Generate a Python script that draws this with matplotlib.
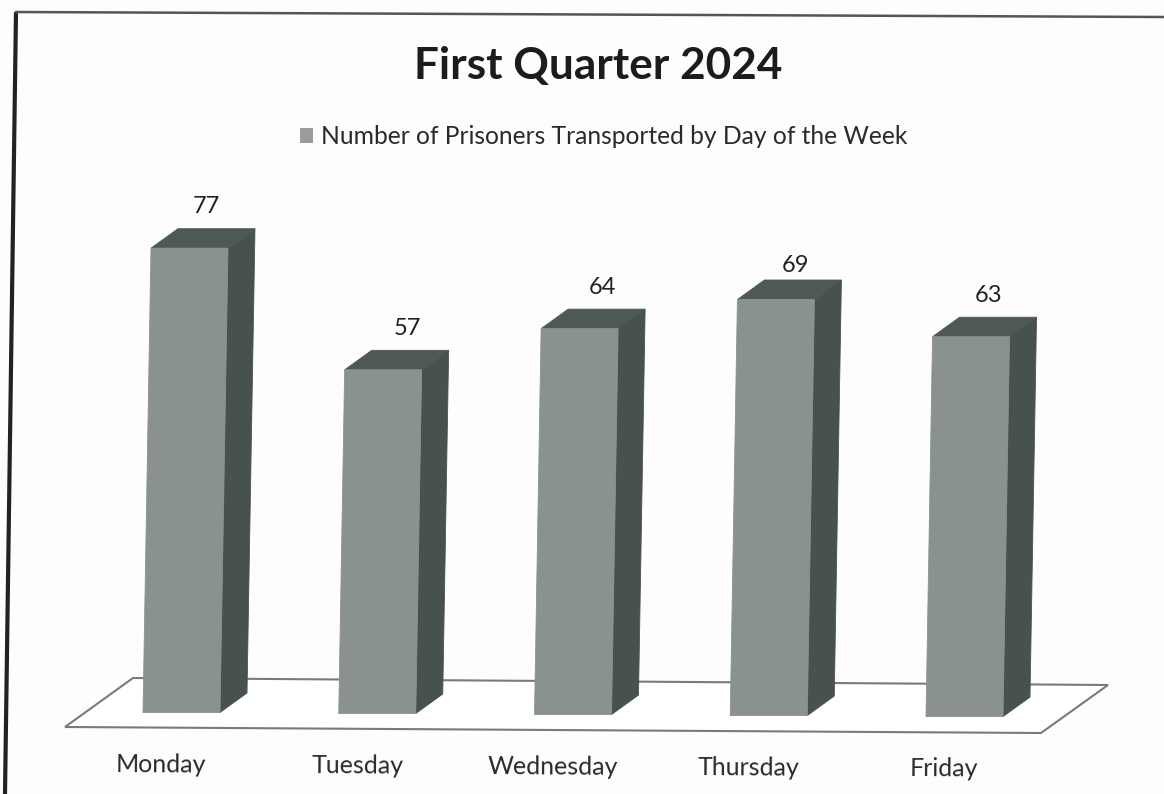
import matplotlib
matplotlib.use("Agg")
import matplotlib.pyplot as plt
from matplotlib.patches import Patch

plt.rcParams['font.family'] = ['Lato', 'DejaVu Sans']

days = ["Monday", "Tuesday", "Wednesday", "Thursday", "Friday"]
prisoners = [77, 57, 64, 69, 63]
series_name = "Number of Prisoners Transported by Day of the Week"
title = "First Quarter 2024"

W, H = 1164, 794
# scale of the picture: pixels per category and per prisoner
PX_X = 195.75
PX_Y = 6.03
X0_PX = 181.5
Y0_PX = 712.5

fig = plt.figure(figsize=(W / 100, H / 100), dpi=100, facecolor='#fdfdfd')
ax = fig.add_axes([0, 0, 1, 1])
ax.set_xlim(-X0_PX / PX_X, (W - X0_PX) / PX_X)
ax.set_ylim(-(H - Y0_PX) / PX_Y, Y0_PX / PX_Y)
ax.axis('off')


def from_px(x, y):
    # picture pixels to data units
    return (x - X0_PX) / PX_X, (Y0_PX - y) / PX_Y


# the scan is slightly crooked, bars lean right and the floor slopes down
lean = 0.0172 * PX_Y / PX_X
drift = 0.17
half = 38.5 / PX_X
dx, dy = 27 / PX_X, 19.5 / PX_Y

# value labels are not placed evenly in the original (pixels)
label_dx = [17, 24, 23, 20, 18]
label_dy = [42, 41, 41, 34, 41]

# floor
floor = [from_px(65, 727), from_px(133, 678), from_px(1108, 685), from_px(1041, 733)]
ax.fill(*zip(*floor), facecolor='white', edgecolor='#777b79', linewidth=1.5, zorder=1)

for i, (day, v) in enumerate(zip(days, prisoners)):
    b = -drift * i
    t = v + b
    x_top = i + lean * v
    left, right = i - half, i + half
    tl, tr = x_top - half, x_top + half
    # side
    ax.fill([right, right + dx, tr + dx, tr], [b, b + dy, t + dy, t],
            facecolor='#47524f', edgecolor='#47524f', linewidth=0.6, zorder=2)
    # top
    ax.fill([tl, tl + dx, tr + dx, tr], [t, t + dy, t + dy, t],
            facecolor='#4e5956', edgecolor='#4e5956', linewidth=0.6, zorder=2)
    # front
    ax.fill([left, right, tr, tl], [b, b, t, t],
            facecolor='#8a928f', edgecolor='#8a928f', linewidth=0.6, zorder=3)
    ax.text(x_top + label_dx[i] / PX_X, t + label_dy[i] / PX_Y, str(v), ha='center', va='center',
            fontsize=17, color='#222222')
    ax.text(i - 20 / PX_X, -8.6 + b * 1.1, day, ha='center', va='center',
            fontsize=18, color='#2a2a2a', rotation=-0.4)

# title and legend
tx, ty = from_px(598, 66)
ax.text(tx, ty, title, ha='center', va='center', fontsize=31.8, fontweight='bold', color='#1c1c1c')
handle = Patch(facecolor='#999c9b', edgecolor='none', label=series_name)
lx, ly = from_px(603.5, 137)
ax.legend(handles=[handle], loc='center', bbox_to_anchor=(lx, ly), bbox_transform=ax.transData,
          frameon=False, fontsize=17.75, handlelength=0.55, handleheight=0.55, handletextpad=0.3,
          labelcolor='#2a2a2a')

# scanned page border
ax.plot(*zip(from_px(16, 12), from_px(5, 794)), color='#222222', linewidth=3, solid_capstyle='butt')
ax.plot(*zip(from_px(15, 12), from_px(1164, 17)), color='#555555', linewidth=1.8, solid_capstyle='butt')

fig.savefig("out.png", dpi=100, facecolor=fig.get_facecolor())
